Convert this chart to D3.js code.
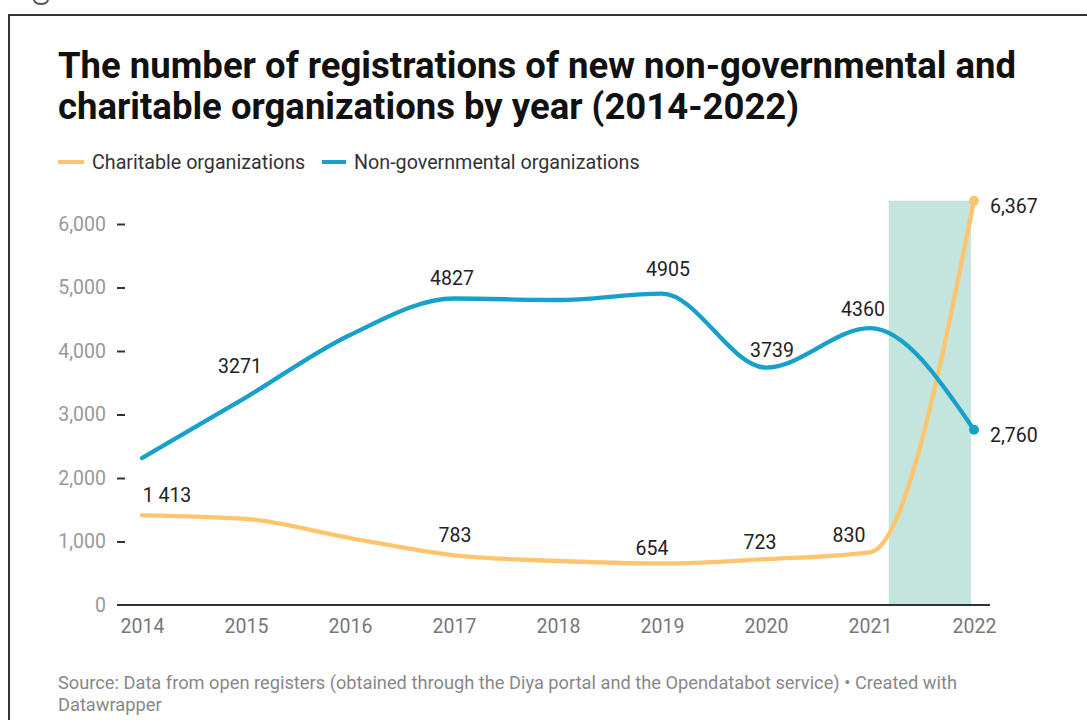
<!DOCTYPE html>
<html><head><meta charset="utf-8">
<script src="https://cdn.jsdelivr.net/npm/d3@7"></script>
<style>
html,body{margin:0;padding:0;background:#fff;overflow:hidden}
svg{display:block;font-family:Roboto,"Noto Sans",sans-serif}
</style></head>
<body>
<svg id="c" width="1087" height="720"></svg>
<script>
const years = [2014, 2015, 2016, 2017, 2018, 2019, 2020, 2021, 2022];
const charitable = [1413, 1355, 1055, 783, 693, 654, 723, 830, 6367];
const ngo = [2315, 3271, 4252, 4827, 4803, 4905, 3739, 4360, 2760];
const yTicks = [0, 1000, 2000, 3000, 4000, 5000, 6000];
const charitableLabels = ["1 413", null, null, "783", null, "654", "723", "830", "6,367"];
const ngoLabels = [null, "3271", null, "4827", null, "4905", "3739", "4360", "2,760"];
const highlight = [2021.18, 2021.97];
const seriesNames = ["Charitable organizations", "Non-governmental organizations"];
const colors = {charitable: "#fec46e", ngo: "#17a1ca", band: "#c3e5dd"};

const svg = d3.select("#c");
const x = d3.scaleLinear().domain([2014, 2022]).range([142, 974]);
const y = d3.scaleLinear().domain([0, 6000]).range([605, 224]);

// frame
svg.append("rect").attr("x", 9).attr("y", 15).attr("width", 1100).attr("height", 720)
  .attr("fill", "none").attr("stroke", "#333").attr("stroke-width", 2);
// clipped descender of a glyph above the frame
svg.append("path").attr("d", "M34,0 Q35,4 41,4 Q47,4 48,0").attr("fill", "none").attr("stroke", "#555").attr("stroke-width", 2);

// title
const title = svg.append("text").attr("x", 58).attr("font-weight", 700).attr("font-size", 36.5).attr("fill", "#111");
title.append("tspan").attr("x", 58).attr("y", 78).text("The number of registrations of new non-governmental and");
title.append("tspan").attr("x", 58).attr("y", 119).text("charitable organizations by year (2014-2022)");

// legend
const leg = svg.append("g").attr("font-size", 19.7).attr("fill", "#333");
leg.append("line").attr("x1", 58).attr("x2", 84).attr("y1", 162).attr("y2", 162).attr("stroke", colors.charitable).attr("stroke-width", 4);
leg.append("text").attr("x", 92).attr("y", 169).text(seriesNames[0]);
leg.append("line").attr("x1", 322).attr("x2", 346).attr("y1", 162).attr("y2", 162).attr("stroke", colors.ngo).attr("stroke-width", 4);
leg.append("text").attr("x", 354).attr("y", 169).text(seriesNames[1]);

// highlight band
svg.append("rect").attr("x", x(highlight[0])).attr("width", x(highlight[1]) - x(highlight[0]))
  .attr("y", y(6367)).attr("height", y(0) - y(6367)).attr("fill", colors.band);

// y axis
const ya = svg.append("g").attr("transform", "translate(125,0)")
  .call(d3.axisLeft(y).tickValues(yTicks).tickSize(8).tickPadding(11).tickFormat(d3.format(",")));
ya.select(".domain").remove();
ya.selectAll("line").attr("stroke", "#333").attr("stroke-width", 2);
ya.selectAll("text").attr("font-size", 19.5).attr("fill", "#999").attr("font-family", "Roboto");
ya.selectAll(".tick").filter(d => d === 0).select("line").remove();

// x axis
const xa = svg.append("g").attr("transform", "translate(0,605)")
  .call(d3.axisBottom(x).tickValues(years).tickSize(0).tickPadding(14).tickFormat(d3.format("d")));
xa.select(".domain").remove();
xa.selectAll("text").attr("font-size", 19.5).attr("fill", "#777").attr("font-family", "Roboto");
svg.append("line").attr("x1", 117).attr("x2", 990).attr("y1", 605).attr("y2", 605).attr("stroke", "#333").attr("stroke-width", 2);

// lines
const line = d3.line().x((d, i) => x(years[i])).y(d => y(d)).curve(d3.curveMonotoneX);
svg.append("path").datum(charitable).attr("d", line).attr("fill", "none").attr("stroke", colors.charitable).attr("stroke-width", 4.3).attr("stroke-linecap", "round");
svg.append("path").datum(ngo).attr("d", line).attr("fill", "none").attr("stroke", colors.ngo).attr("stroke-width", 4.3).attr("stroke-linecap", "round");

// end dots
svg.append("circle").attr("cx", x(2022)).attr("cy", y(charitable[8])).attr("r", 5).attr("fill", colors.charitable);
svg.append("circle").attr("cx", x(2022)).attr("cy", y(ngo[8])).attr("r", 5).attr("fill", colors.ngo);

// value labels
const lab = svg.append("g").attr("font-size", 19.5).attr("fill", "#222");
const offsets = {
  c: [[25, -13], null, null, [1, -13], null, [-10, -8], [-6, -10], [-21, -10]],
  n: [null, [-6, -24], null, [-2, -13], null, [6, -18], [6, -11], [-7, -12]]
};
charitable.slice(0, 8).forEach((v, i) => {
  if (!charitableLabels[i]) return;
  const o = offsets.c[i];
  lab.append("text").attr("x", x(years[i]) + o[0]).attr("y", y(v) + o[1]).attr("text-anchor", "middle").text(charitableLabels[i]);
});
ngo.slice(0, 8).forEach((v, i) => {
  if (!ngoLabels[i]) return;
  const o = offsets.n[i];
  lab.append("text").attr("x", x(years[i]) + o[0]).attr("y", y(v) + o[1]).attr("text-anchor", "middle").text(ngoLabels[i]);
});
lab.append("text").attr("x", x(2022) + 16).attr("y", y(charitable[8]) + 12).text(charitableLabels[8]);
lab.append("text").attr("x", x(2022) + 16).attr("y", y(ngo[8]) + 12).text(ngoLabels[8]);

// footer
const ft = svg.append("text").attr("font-size", 18.25).attr("fill", "#888");
ft.append("tspan").attr("x", 58).attr("y", 689).text("Source: Data from open registers (obtained through the Diya portal and the Opendatabot service) • Created with");
ft.append("tspan").attr("x", 58).attr("y", 711).text("Datawrapper");
</script>
</body></html>
